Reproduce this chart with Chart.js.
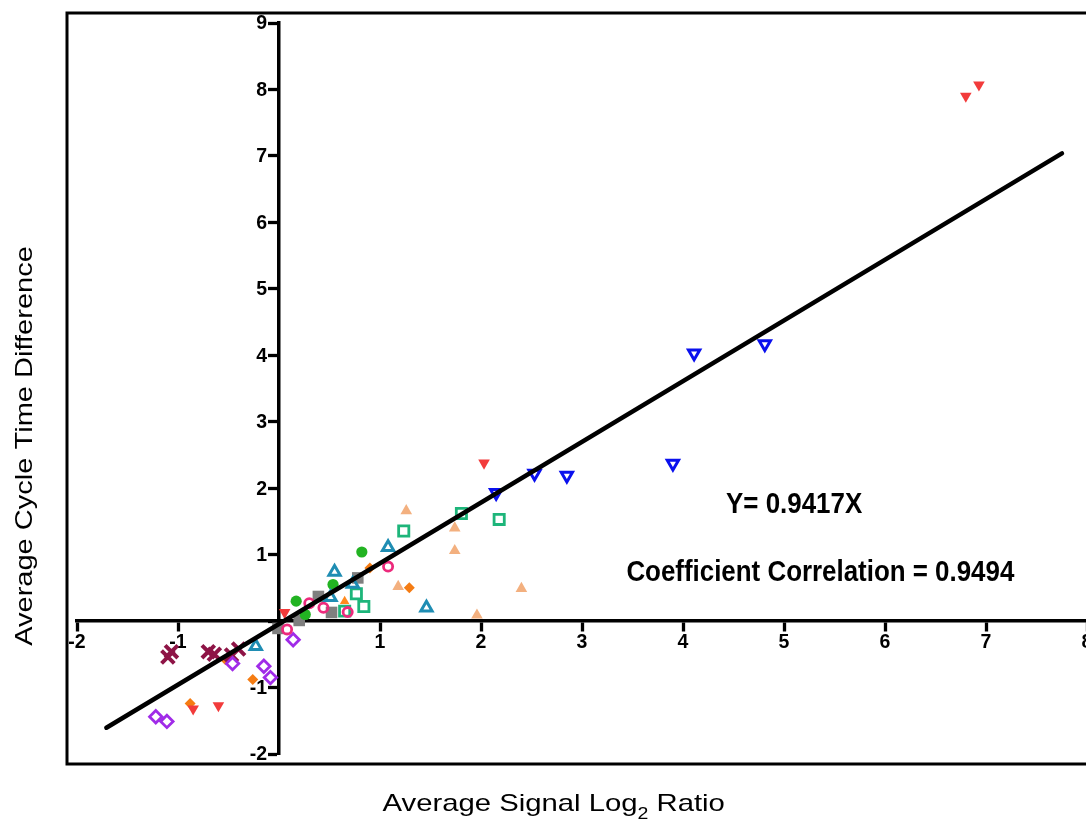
<!DOCTYPE html>
<html><head><meta charset="utf-8">
<script src="https://cdn.jsdelivr.net/npm/chart.js@4.4.1/dist/chart.umd.min.js"></script>
<style>
html,body{margin:0;padding:0;background:#fff;overflow:hidden}
#wrap{position:relative;width:1100px;height:821px}
</style>
</head><body>
<div id="wrap"><canvas id="c"></canvas></div>
<script>
// Axis ranges / tick settings
const xRange = [-2, 8];
const yRange = [-2, 9];
const tickStep = 1;

// Regression line endpoints (as drawn)
const fitX = [-1.709, 7.752];
const fitY = [-1.605, 7.039];

// Series values
const redDownX = [6.80, 6.93, 2.03, 0.056, -0.85, -0.60];
const redDownY = [7.90, 8.07, 2.38, 0.13, -1.32, -1.27];

const blueDownX = [4.11, 4.81, 3.90, 2.53, 2.85, 2.15];
const blueDownY = [4.03, 4.17, 2.37, 2.22, 2.19, 1.93];

const peachTriX = [1.26, 1.74, 1.74, 1.18, 2.40, 1.96];
const peachTriY = [1.66, 1.40, 1.06, 0.52, 0.49, 0.09];

const orangeTriX = [0.65];
const orangeTriY = [0.30];

const greenSqX = [1.235, 1.806, 2.18, 0.766, 0.84, 0.65];
const greenSqY = [1.355, 1.62, 1.53, 0.41, 0.22, 0.15];

const tealTriX = [1.08, 0.55, 0.73, 0.51, 1.46, -0.23];
const tealTriY = [1.11, 0.74, 0.56, 0.36, 0.20, -0.38];

const greenDotX = [0.82, 0.535, 0.17, 0.26];
const greenDotY = [1.04, 0.55, 0.30, 0.10];

const pinkRingX = [1.08, 0.30, 0.44, 0.68, 0.08];
const pinkRingY = [0.82, 0.27, 0.20, 0.135, -0.125];

const graySqX = [0.39, 0.78, 0.52, 0.20, -0.01];
const graySqY = [0.37, 0.65, 0.13, 0.01, -0.11];

const orangeDiaX = [0.90, 1.29, -0.26, -0.88, -0.53];
const orangeDiaY = [0.80, 0.50, -0.88, -1.24, -0.58];

const maroonXX = [-1.10, -1.065, -0.70, -0.64, -0.47, -0.40];
const maroonXY = [-0.54, -0.46, -0.46, -0.50, -0.51, -0.42];

const purpleDiaX = [-1.22, -1.11, -0.46, -0.15, -0.085, 0.14];
const purpleDiaY = [-1.44, -1.51, -0.64, -0.68, -0.85, -0.28];

// Texts
const yTitle = 'Average Cycle Time Difference';
const xTitleMain = 'Average Signal Log';
const xTitleSub = '2';
const xTitleEnd = ' Ratio';
const eqText = 'Y= 0.9417X';
const corrText = 'Coefficient Correlation = 0.9494';
const eqPos = [5.10, 1.62];
const corrPos = [5.36, 0.60];

function pts(xs, ys) { return xs.map((x, i) => ({x: x, y: ys[i]})); }
function ds(xs, ys, style) { return Object.assign({data: pts(xs, ys), showLine: false}, style); }

const NONE = 'rgba(0,0,0,0)';
const FONT = '"Liberation Sans", Arial, Helvetica, sans-serif';

const datasets = [
  {data: pts(fitX, fitY), showLine: true, borderColor: '#000', borderWidth: 4.5, pointRadius: 0, borderCapStyle: 'round', fill: false},
  ds(redDownX, redDownY, {pointStyle: 'triangle', rotation: 180, pointRadius: 6.7, backgroundColor: '#F23B3B', borderColor: '#F23B3B', borderWidth: 0}),
  ds(blueDownX, blueDownY, {pointStyle: 'triangle', rotation: 180, pointRadius: 6.5, backgroundColor: NONE, borderColor: '#0A10EE', borderWidth: 3}),
  ds(tealTriX, tealTriY, {pointStyle: 'triangle', pointRadius: 6.5, backgroundColor: NONE, borderColor: '#1F8DB3', borderWidth: 3}),
  ds(pinkRingX, pinkRingY, {pointStyle: 'circle', pointRadius: 4.6, backgroundColor: NONE, borderColor: '#EC2A7C', borderWidth: 2.8}),
  ds(greenSqX, greenSqY, {pointStyle: 'rect', pointRadius: 7.2, backgroundColor: NONE, borderColor: '#1DB57A', borderWidth: 2.8}),
  ds(purpleDiaX, purpleDiaY, {pointStyle: 'rectRot', pointRadius: 6.2, backgroundColor: NONE, borderColor: '#A02BE8', borderWidth: 2.8}),
  ds(maroonXX, maroonXY, {pointStyle: 'crossRot', pointRadius: 9, backgroundColor: '#8E1446', borderColor: '#8E1446', borderWidth: 4}),
  ds(greenDotX, greenDotY, {pointStyle: 'circle', pointRadius: 5.6, backgroundColor: '#22B322', borderColor: '#22B322', borderWidth: 0}),
  ds(graySqX, graySqY, {pointStyle: 'rect', pointRadius: 8.2, backgroundColor: '#7F7F7F', borderColor: '#7F7F7F', borderWidth: 0}),
  ds(orangeDiaX, orangeDiaY, {pointStyle: 'rectRot', pointRadius: 5.5, backgroundColor: '#F57C13', borderColor: '#F57C13', borderWidth: 0}),
  ds(orangeTriX, orangeTriY, {pointStyle: 'triangle', pointRadius: 5.5, backgroundColor: '#FF8A1E', borderColor: '#FF8A1E', borderWidth: 0}),
  ds(peachTriX, peachTriY, {pointStyle: 'triangle', pointRadius: 6.7, backgroundColor: '#F3B07F', borderColor: '#F3B07F', borderWidth: 0})
];

function zeroPad(scale) { scale.paddingLeft = 0; scale.paddingRight = 0; scale.paddingTop = 0; scale.paddingBottom = 0; }
const tickLabel = v => (v === 0 ? '' : String(v));

const decor = {
  id: 'decor',
  beforeDatasetsDraw(chart) {
    const ctx = chart.ctx, a = chart.chartArea, m = 10;
    ctx.save();
    ctx.strokeStyle = '#000';
    ctx.lineWidth = 3;
    ctx.strokeRect(a.left - m, a.top - m, (a.right - a.left) + 2 * m, (a.bottom - a.top) + 2 * m);
    ctx.restore();
  },
  afterDraw(chart) {
    const ctx = chart.ctx, xs = chart.scales.x, ys = chart.scales.y;
    ctx.save();
    ctx.fillStyle = '#000';
    // Y tick labels (left of the crossing y axis)
    const axisX = xs.getPixelForValue(0);
    ctx.font = 'bold 19.5px ' + FONT;
    ctx.textAlign = 'right';
    ctx.textBaseline = 'middle';
    ys.ticks.forEach(t => {
      const s = tickLabel(t.value);
      if (s) ctx.fillText(s, axisX - 1.5 - 9 - 1.5, ys.getPixelForValue(t.value) + 1);
    });
    // Y title (rotated, stretched)
    ctx.save();
    ctx.translate(32, 446);
    ctx.rotate(-Math.PI / 2);
    ctx.scale(1.21, 1);
    ctx.font = '24px ' + FONT;
    ctx.textAlign = 'center';
    ctx.textBaseline = 'alphabetic';
    ctx.fillText(yTitle, 0, 0);
    ctx.restore();
    // X title with subscript
    ctx.save();
    ctx.translate(553.7, 811);
    ctx.scale(1.22, 1);
    ctx.textBaseline = 'alphabetic';
    ctx.textAlign = 'left';
    ctx.font = '24px ' + FONT;
    const w1 = ctx.measureText(xTitleMain).width;
    const w3 = ctx.measureText(xTitleEnd).width;
    ctx.font = '16px ' + FONT;
    const w2 = ctx.measureText(xTitleSub).width;
    let sx = -(w1 + w2 + w3) / 2;
    ctx.font = '24px ' + FONT;
    ctx.fillText(xTitleMain, sx, 0);
    ctx.font = '16px ' + FONT;
    ctx.fillText(xTitleSub, sx + w1, 8);
    ctx.font = '24px ' + FONT;
    ctx.fillText(xTitleEnd, sx + w1 + w2, 0);
    ctx.restore();
    // Annotations (bold condensed)
    [[eqText, eqPos], [corrText, corrPos]].forEach(([t, p]) => {
      ctx.save();
      ctx.translate(xs.getPixelForValue(p[0]), ys.getPixelForValue(p[1]));
      ctx.scale(0.855, 1);
      ctx.font = 'bold 30.3px ' + FONT;
      ctx.textAlign = 'center';
      ctx.textBaseline = 'alphabetic';
      ctx.fillText(t, 0, 0);
      ctx.restore();
    });
    ctx.restore();
  }
};

new Chart(document.getElementById('c'), {
  type: 'scatter',
  data: {datasets: datasets},
  plugins: [decor],
  options: {
    responsive: true,
    maintainAspectRatio: false,
    animation: false,
    layout: {padding: {left: 77, right: 13, top: 23, bottom: 67}},
    plugins: {legend: {display: false}, tooltip: {enabled: false}},
    scales: {
      x: {
        type: 'linear', min: xRange[0], max: xRange[1], position: {y: 0},
        afterFit: zeroPad,
        ticks: {stepSize: tickStep, includeBounds: false, autoSkip: false, maxRotation: 0,
          callback: tickLabel, color: '#000', padding: 1,
          font: {family: FONT, size: 19.5, weight: 'bold'}},
        grid: {drawOnChartArea: false, drawTicks: true, tickLength: 9, tickWidth: 3.3, tickColor: '#000'},
        border: {display: true, color: '#000', width: 3.5}
      },
      y: {
        type: 'linear', min: yRange[0], max: yRange[1], position: {x: 0},
        afterFit: zeroPad,
        ticks: {stepSize: tickStep, includeBounds: false, autoSkip: false, display: false,
          callback: tickLabel},
        grid: {drawOnChartArea: false, drawTicks: true, tickLength: 9, tickWidth: 3.3, tickColor: '#000'},
        border: {display: true, color: '#000', width: 3.5}
      }
    }
  }
});
</script>
</body></html>
